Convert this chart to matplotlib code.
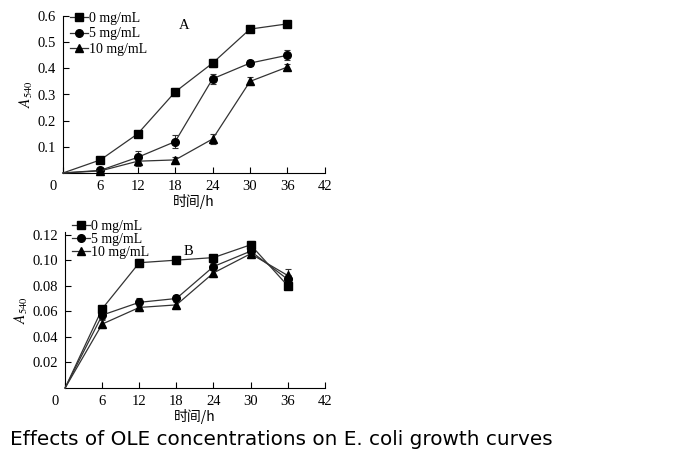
import matplotlib
matplotlib.use("Agg")
import matplotlib.pyplot as plt
import matplotlib.transforms as mtransforms

# Data
hours = [0, 6, 12, 18, 24, 30, 36]
labels = ["0 mg/mL", "5 mg/mL", "10 mg/mL"]
markers = ["s", "o", "^"]

a_0mg = [0, 0.05, 0.15, 0.31, 0.42, 0.55, 0.57]
a_5mg = [0, 0.01, 0.06, 0.12, 0.36, 0.42, 0.45]
a_10mg = [0, 0.008, 0.045, 0.05, 0.13, 0.35, 0.405]
a_err_0mg = [0, 0.01, 0.01, 0.015, 0.015, 0.01, 0.012]
a_err_5mg = [0, 0.005, 0.025, 0.025, 0.02, 0.01, 0.02]
a_err_10mg = [0, 0.005, 0.02, 0.01, 0.02, 0.015, 0.012]

b_0mg = [0, 0.062, 0.098, 0.100, 0.102, 0.112, 0.080]
b_5mg = [0, 0.057, 0.067, 0.070, 0.095, 0.107, 0.085]
b_10mg = [0, 0.050, 0.063, 0.065, 0.090, 0.105, 0.088]
b_err_0mg = [0, 0.002, 0.003, 0.003, 0.002, 0.003, 0.002]
b_err_5mg = [0, 0.003, 0.003, 0.003, 0.003, 0.003, 0.003]
b_err_10mg = [0, 0.003, 0.003, 0.003, 0.003, 0.003, 0.005]

a_yticks = [0.1, 0.2, 0.3, 0.4, 0.5, 0.6]
a_yticklabels = ["0.1", "0.2", "0.3", "0.4", "0.5", "0.6"]
b_yticks = [0.02, 0.04, 0.06, 0.08, 0.10, 0.12]
b_yticklabels = ["0.02", "0.04", "0.06", "0.08", "0.10", "0.12"]
xticks = [0, 6, 12, 18, 24, 30, 36, 42]

SERIF = "Liberation Serif"
CJK = ["Noto Sans CJK SC", "DejaVu Sans"]
LINE_COLOR = "#333333"
plt.rcParams["mathtext.fontset"] = "stix"

fig = plt.figure(figsize=(7, 4.5), dpi=100)
fig.set_facecolor("white")

ax_a = fig.add_axes([0.09, 0.6156, 0.374, 0.3488])
ax_b = fig.add_axes([0.093, 0.1378, 0.371, 0.3466])


def draw_panel(ax, series, errors, yticks, yticklabels, ylim, tag, tag_xy,
               legend_spacing, legend_top):
    for vals, errs, mk, lab in zip(series, errors, markers, labels):
        # Line starts at the origin, markers only on measured points
        ax.plot(hours, vals, color=LINE_COLOR, linewidth=0.9, marker=mk,
                markersize=5.5, markerfacecolor="black", markeredgecolor="black",
                markevery=slice(1, None), label=lab, clip_on=False, zorder=3)
        ax.errorbar(hours[1:], vals[1:], yerr=errs[1:], fmt="none",
                    ecolor=LINE_COLOR, elinewidth=0.8, capsize=2.5,
                    capthick=0.8, clip_on=False, zorder=2)
    ax.set_xlim(0, 42)
    ax.set_ylim(*ylim)
    ax.set_xticks(xticks)
    ax.set_xticklabels([str(t) for t in xticks], fontfamily=SERIF, fontsize=10.5)
    ax.set_yticks(yticks)
    ax.set_yticklabels(yticklabels, fontfamily=SERIF, fontsize=10.5)
    ax.tick_params(direction="in", length=4, width=0.8, pad=5)
    ax.spines["top"].set_visible(False)
    ax.spines["right"].set_visible(False)
    ax.set_ylabel(r"$\mathit{A}_{540}$", fontsize=11, labelpad=2)
    ax.set_xlabel("时间/h", fontfamily=CJK, fontsize=10, labelpad=1)
    ax.text(tag_xy[0], tag_xy[1], tag, fontfamily=SERIF, fontsize=10.5,
            ha="center", va="center")
    ax.legend(loc="upper left", bbox_to_anchor=(0.0, legend_top), frameon=False,
              prop={"family": SERIF, "size": 10}, handlelength=1.3,
              handletextpad=0.1, labelspacing=legend_spacing, borderaxespad=0.3,
              borderpad=0.2)
    # Shift the "0" x tick label left of the origin
    offset = mtransforms.ScaledTranslation(-7 / 72, 0, fig.dpi_scale_trans)
    lbl = ax.get_xticklabels()[0]
    lbl.set_transform(lbl.get_transform() + offset)


draw_panel(ax_a, [a_0mg, a_5mg, a_10mg], [a_err_0mg, a_err_5mg, a_err_10mg],
           a_yticks, a_yticklabels, (0, 0.6), "A", (19.5, 0.565),
           legend_spacing=0.18, legend_top=1.07)
draw_panel(ax_b, [b_0mg, b_5mg, b_10mg], [b_err_0mg, b_err_5mg, b_err_10mg],
           b_yticks, b_yticklabels, (0, 0.122), "B", (20, 0.107),
           legend_spacing=0.0, legend_top=1.12)

fig.text(0.014, 0.012, "Effects of OLE concentrations on E. coli growth curves",
         fontfamily="DejaVu Sans", fontsize=14.4, ha="left", va="baseline")

fig.savefig("out.png", dpi=100, facecolor="white")
